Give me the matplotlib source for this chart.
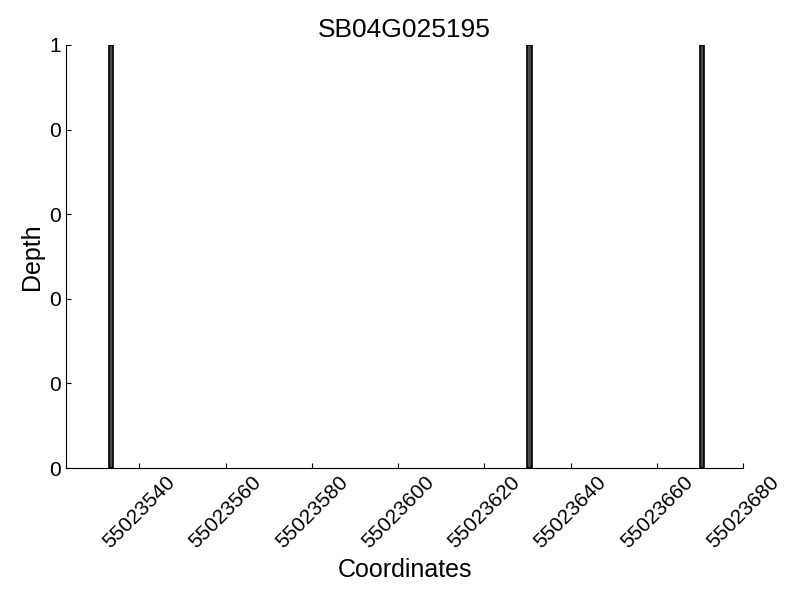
import matplotlib
matplotlib.use("Agg")
import matplotlib.pyplot as plt
from matplotlib.ticker import FormatStrFormatter

plt.rcParams['font.family'] = ['Liberation Sans', 'DejaVu Sans']

# positions (bar left edges) and depths
positions = [55023533, 55023630, 55023670]
depths = [1, 1, 1]
xticks = [55023540, 55023560, 55023580, 55023600, 55023620, 55023640, 55023660, 55023680]
yticks = [0, 0.2, 0.4, 0.6, 0.8, 1.0]

fig = plt.figure(figsize=(8, 6), dpi=100)
ax = fig.add_axes([0.0825, 0.22, 0.8463, 0.705])

ax.bar(positions, depths, width=1, align='edge', color='#4a4a4a', edgecolor='black', linewidth=1.2)

ax.spines['right'].set_color('none')
ax.spines['top'].set_color('none')
ax.set_xlim(55023523, 55023680)
ax.set_ylim(0, 1)
ax.set_xticks(xticks)
ax.set_yticks(yticks)
ax.xaxis.set_major_formatter(FormatStrFormatter('%d'))
ax.yaxis.set_major_formatter(FormatStrFormatter('%d'))
ax.tick_params(direction='in', labelsize=15)
plt.setp(ax.get_xticklabels(), rotation=45)

ax.set_title('SB04G025195', fontsize=19)
ax.set_xlabel('Coordinates', fontsize=18)
ax.set_ylabel('Depth', fontsize=18)

fig.savefig('out.png')
